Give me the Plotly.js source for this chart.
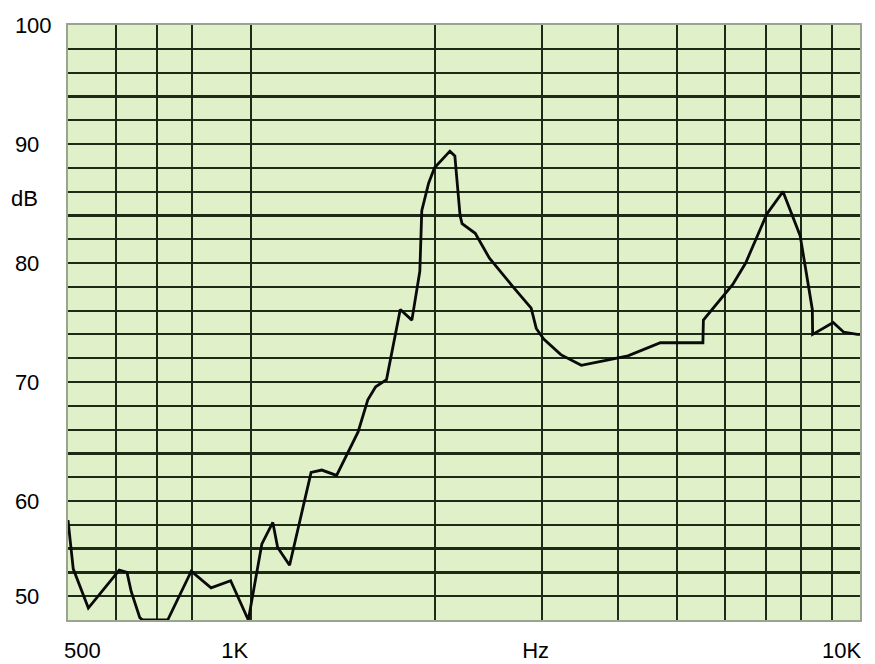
<!DOCTYPE html>
<html>
<head>
<meta charset="utf-8">
<script src="https://cdn.plot.ly/plotly-3.0.1.min.js"></script>
<style>html,body{margin:0;padding:0;background:#fff;}#chart{width:875px;height:664px;}</style>
</head>
<body>
<div id="chart"></div>
<script>
// Frequency response (Hz) and level (dB)
var freqHz = [500, 510, 540, 607, 625, 635, 656, 663, 729, 797, 859, 925, 989,
  1041, 1085, 1105, 1156, 1254, 1306, 1381, 1498, 1554, 1601, 1668, 1757, 1836,
  1892, 1906, 1956, 2000, 2120, 2160, 2203, 2220, 2333, 2462, 2692, 2883, 2939,
  3023, 3225, 3485, 3806, 4157, 4700, 5520, 5530, 6180, 6489, 7027, 7472, 7974,
  8350, 8360, 9036, 9396, 9900, 10000];
var levelDb = [58.4, 54.3, 51.0, 54.2, 54.0, 52.4, 50.2, 50.0, 50.0, 54.1, 52.7, 53.3, 50.0,
  56.4, 58.2, 56.1, 54.6, 62.4, 62.6, 62.15, 65.8, 68.5, 69.6, 70.2, 76.1, 75.2,
  79.3, 84.4, 86.7, 88.0, 89.4, 89.0, 84.0, 83.3, 82.5, 80.4, 78.0, 76.2, 74.5,
  73.6, 72.3, 71.4, 71.8, 72.2, 73.3, 73.3, 75.2, 78.2, 80.0, 84.1, 86.0, 82.3,
  76.1, 74.0, 75.0, 74.2, 74.0, 74.0];

// X axis grid / tick labels (figure/thin spaces only nudge the labels as in the picture)
var xTickVals = [500, 600, 700, 800, 1000, 2000, 3000, 4000, 5000, 6000, 7000, 8000, 9000, 10000];
var xTickText = ["\u2007\u2007\u2009500", "", "", "", "1K\u2007\u2007\u2009\u2009", "", "Hz\u2007", "", "", "", "", "", "", ""];
var xEndLabel = "10K";   // drawn right-aligned at the axis end so it stays inside the page

// Y axis labels
var yLabelVals = [100, 90, 80, 70, 60, 52];
var yLabelText = ["100", "90\u2007", "80\u2007", "70\u2007", "60\u2007", "50\u2007"];
var yUnitText = "dB";
var yUnitAt = 85.4;
var yMin = 50, yMax = 100, yStep = 2;

var yTickVals = [], yTickText = [];
for (var v = yMin; v <= yMax; v += yStep) {
  yTickVals.push(v);
  var idx = yLabelVals.indexOf(v);
  yTickText.push(idx >= 0 ? yLabelText[idx] : "");
}

var gridCol = "#1c2a18";
var fontSpec = {family: "Liberation Sans, Arial, sans-serif", size: 22, color: "#000"};
var trace = {
  x: freqHz, y: levelDb, type: "scatter", mode: "lines",
  line: {color: "#0a0a0a", width: 2.8},
  hoverinfo: "skip"
};

var layout = {
  width: 875, height: 664,
  margin: {l: 68, r: 15, t: 25, b: 44},
  paper_bgcolor: "#ffffff",
  plot_bgcolor: "#e0f0c9",
  showlegend: false,
  font: fontSpec,
  xaxis: {
    type: "log",
    range: [Math.log10(500), Math.log10(10000)],
    tickmode: "array", tickvals: xTickVals, ticktext: xTickText,
    showgrid: true, gridcolor: gridCol, gridwidth: 2,
    ticks: "", ticklabelstandoff: 10,
    showline: true, linecolor: "#9aa590", linewidth: 2, mirror: true,
    zeroline: false, fixedrange: true
  },
  yaxis: {
    range: [yMin, yMax],
    tickmode: "array", tickvals: yTickVals, ticktext: yTickText,
    showgrid: true, gridcolor: gridCol, gridwidth: 2.2,
    ticks: "", ticklabelstandoff: 10,
    showline: true, linecolor: "#9aa590", linewidth: 2, mirror: true,
    zeroline: false, fixedrange: true
  },
  annotations: [{
    text: yUnitText, xref: "paper", yref: "y", x: 0, y: yUnitAt,
    xanchor: "right", yanchor: "middle", xshift: -28, showarrow: false,
    font: fontSpec
  }, {
    text: xEndLabel, xref: "paper", yref: "paper", x: 1, y: 0,
    xanchor: "right", yanchor: "top", xshift: 3, yshift: -16, showarrow: false,
    font: fontSpec
  }]
};

Plotly.newPlot("chart", [trace], layout, {displayModeBar: false, staticPlot: true});
</script>
</body>
</html>
